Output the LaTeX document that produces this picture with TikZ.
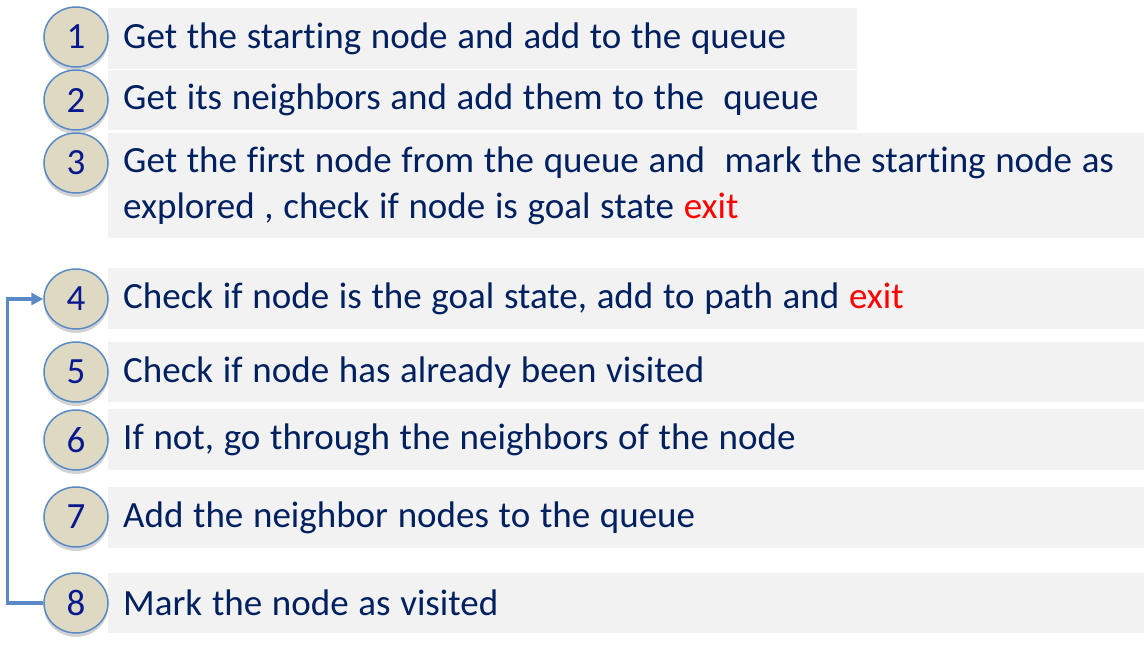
\documentclass[tikz,border=0pt]{standalone}
\usepackage{fontspec}
\setmainfont{Carlito}[Ligatures=NoCommon]
\usetikzlibrary{shapes.geometric,shadows,arrows.meta}
\definecolor{boxgray}{HTML}{F2F2F2}
\definecolor{tan}{HTML}{DDD9C3}
\definecolor{ringblue}{HTML}{5A8AC6}
\definecolor{numblue}{HTML}{0A1890}
\definecolor{textblue}{HTML}{002060}
\definecolor{exitred}{HTML}{FF0000}
\newcommand{\exitword}{\textcolor{exitred}{exit}}

\begin{document}
\begin{tikzpicture}[x=1pt,y=-1pt,
    stepbox/.style={fill=boxgray, anchor=north west, inner xsep=15pt, inner ysep=0pt,
        align=left, text=textblue, font=\fontsize{37}{46}\selectfont,
        execute at begin node={\spaceskip=9.7pt\relax}},
    numdot/.style={ellipse, draw=ringblue, line width=1.5pt, fill=tan,
        minimum width=64pt, minimum height=60pt, inner sep=0pt, text=numblue,
        font=\fontsize{37}{40}\selectfont,
        drop shadow={shadow xshift=0pt, shadow yshift=-4pt, opacity=.35}},
    loopback/.style={draw=ringblue, line width=3.5pt, -{Triangle[length=12pt,width=12pt]}}]
    \useasboundingbox (0,0) rectangle (1144,659);
    %the gray step boxes
    \node[stepbox, minimum width=749pt, minimum height=61pt, text width=719pt] (s1) at (108,8) {Get the starting node and add to the queue};
    \node[stepbox, minimum width=749pt, minimum height=60pt, text width=719pt] (s2) at (108,70) {Get its neighbors and add them to the \ queue};
    \node[stepbox, minimum width=1036pt, minimum height=105pt, text width=1006pt] (s3) at (108,133) {Get the first node from the queue and \ mark the starting node as\\ explored , check if node is goal state \exitword};
    \node[stepbox, minimum width=1036pt, minimum height=61pt, text width=1006pt] (s4) at (108,268) {Check if node is the goal state, add to path and \exitword};
    \node[stepbox, minimum width=1036pt, minimum height=60pt, text width=1006pt] (s5) at (108,342) {Check if node has already been visited};
    \node[stepbox, minimum width=1036pt, minimum height=61pt, text width=1006pt] (s6) at (108,409) {If not, go through the neighbors of the node};
    \node[stepbox, minimum width=1036pt, minimum height=61pt, text width=1006pt] (s7) at (108,487) {Add the neighbor nodes to the queue};
    \node[stepbox, minimum width=1036pt, minimum height=60pt, text width=1006pt] (s8) at (108,573) {Mark the node as visited};
    %the numbered circles
    \node[numdot] (c1) at (76,37) {1};
    \node[numdot] (c2) at (76,100) {2};
    \node[numdot] (c3) at (76,163) {3};
    \node[numdot] (c4) at (76,299) {4};
    \node[numdot] (c5) at (76,372) {5};
    \node[numdot] (c6) at (76,440) {6};
    \node[numdot] (c7) at (76,517) {7};
    \node[numdot] (c8) at (76,603) {8};
    %loop from 8 back to 4
    \draw[loopback] (c8.west) -- ++(-36,0) |- (c4.west);
\end{tikzpicture}
\end{document}
